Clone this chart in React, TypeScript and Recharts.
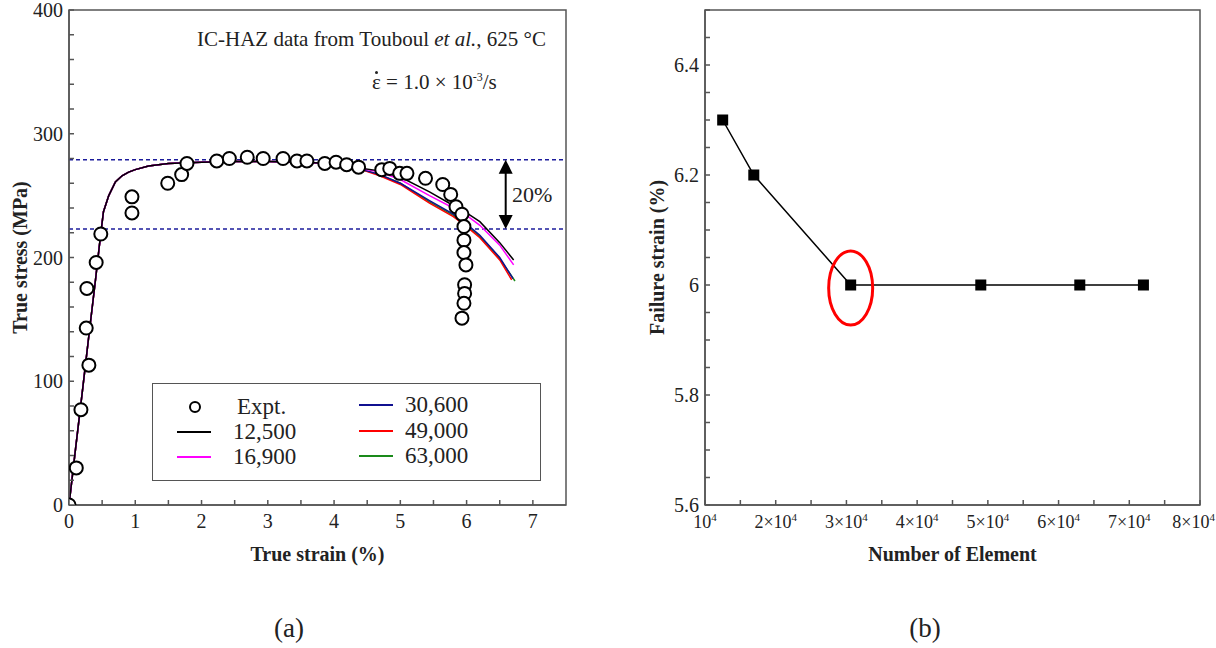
import React from 'react';
import {
  ComposedChart,
  LineChart,
  Line,
  Scatter,
  XAxis,
  YAxis,
  ReferenceLine,
  ReferenceArea,
  ReferenceDot,
} from 'recharts';

const SERIF = '"Liberation Serif", "Times New Roman", serif';
const AXIS = '#555';
const TEXT = '#222';

// (a) experimental points, true strain (%) vs true stress (MPa)
const exptStrain = [
  0, 0.11, 0.18, 0.26, 0.3, 0.27, 0.41, 0.48, 0.95, 0.95, 1.49, 1.7, 1.78, 2.23, 2.42, 2.69,
  2.93, 3.23, 3.44, 3.59, 3.86, 4.03, 4.19, 4.37, 4.72, 4.84, 4.99, 5.1, 5.38, 5.64, 5.76,
  5.84, 5.93, 5.96, 5.96, 5.96, 5.99, 5.97, 5.97, 5.96, 5.93,
];
const exptStress = [
  0, 30, 77, 143, 113, 175, 196, 219, 236, 249, 260, 267, 276, 278, 280, 281,
  280, 280, 278, 278, 276, 277, 275, 273, 271, 272, 268, 268, 264, 259, 251,
  241, 235, 225, 214, 204, 194, 178, 171, 163, 151,
];

// FE curves share the same path up to ~4.3 % strain
const commonStrain = [0, 0.1, 0.2, 0.3, 0.4, 0.47, 0.52, 0.6, 0.7, 0.8, 0.9, 1.0, 1.2, 1.5, 2.0, 2.5, 3.0, 3.5, 4.0, 4.3];
const commonStress = [0, 46, 91, 137, 182, 215, 237, 250, 261, 266, 269, 271, 274, 276, 277, 277.5, 277.5, 277, 276, 273];

// softening part after 4.3 %
const tailStrain = [4.69, 5.0, 5.44, 5.8, 6.0, 6.2, 6.5];
const stress12500 = [270, 265, 253, 242, 236, 229, 212];
const stress16900 = [269, 263, 250, 240, 234, 226, 210];
const stress30600 = [267, 260, 246, 235, 227, 218, 200];
const stress49000 = [266, 259, 244, 233, 225, 216, 198];
const stress63000 = [267, 260, 245, 234, 226, 217, 199];
const endStrain = [6.71, 6.71, 6.7, 6.68, 6.73];
const endStress = [198, 194, 183, 182, 181];

const meshNames = ['12,500', '16,900', '30,600', '49,000', '63,000'];
const meshColors = ['#000000', '#ff00ff', '#101090', '#ff0000', '#1a8a1a'];
const meshTails = [stress12500, stress16900, stress30600, stress49000, stress63000];

// (b) mesh convergence
const elementCount = [12500, 16900, 30600, 49000, 63000, 72000];
const failureStrain = [6.3, 6.2, 6.0, 6.0, 6.0, 6.0];

const yieldLevel = 279;
const dropLevel = 223;

const steps = (from: number, to: number, step: number) => {
  const out: number[] = [];
  for (let v = from; v <= to + step / 1000; v += step) out.push(Math.round(v * 1000) / 1000);
  return out;
};

const xTicksA = steps(0, 7, 0.5);
const xLabelsA = steps(0, 7, 1);
const yTicksA = steps(0, 400, 20);
const yLabelsA = [0, 100, 200, 300, 400];
const xTicksB = steps(10000, 80000, 5000);
const xLabelsB = [10000, 20000, 30000, 40000, 50000, 60000, 70000, 80000];
const yTicksB = steps(5.6, 6.5, 0.05);
const yLabelsB = [5.6, 5.8, 6, 6.2, 6.4];

const exptData = exptStrain.map((x, i) => ({ x, y: exptStress[i] }));
const meshData = meshTails.map((tail, k) => [
  ...commonStrain.map((x, i) => ({ x, y: commonStress[i] })),
  ...tailStrain.map((x, i) => ({ x, y: tail[i] })),
  { x: endStrain[k], y: endStress[k] },
]);
const convData = elementCount.map((n, i) => ({ n, v: failureStrain[i] }));

const has = (list: number[], v: number) => list.some((l) => Math.abs(l - v) < 1e-6);

const tickText = { fontFamily: SERIF, fill: TEXT };

const BottomTick = (props: any) => {
  const { x, y, payload, labels, format } = props;
  const v = payload.value;
  return (
    <g>
      <line x1={x} y1={y} x2={x} y2={y - 5} stroke={AXIS} strokeWidth={1.5} />
      {has(labels, v) && format(x, y + 23, v)}
    </g>
  );
};

const LeftTick = (props: any) => {
  const { x, y, payload, labels } = props;
  const v = payload.value;
  return (
    <g>
      <line x1={x} y1={y} x2={x + 5} y2={y} stroke={AXIS} strokeWidth={1.5} />
      {has(labels, v) && (
        <text x={x - 6} y={y + 7} textAnchor="end" fontSize={20} style={tickText}>
          {String(v)}
        </text>
      )}
    </g>
  );
};

const plainLabel = (x: number, y: number, v: number) => (
  <text x={x} y={y} textAnchor="middle" fontSize={20} style={tickText}>
    {String(v)}
  </text>
);

const powerLabel = (x: number, y: number, v: number) => {
  const m = Math.round(v / 10000);
  // the last label sits on the frame edge, keep it inside the picture
  const last = m === 8;
  return (
    <text x={last ? x + 15 : x} y={y} textAnchor={last ? 'end' : 'middle'} fontSize={18} style={tickText}>
      <tspan>{m === 1 ? '10' : `${m}×10`}</tspan>
      <tspan dy={-7} fontSize={11}>4</tspan>
    </text>
  );
};

const Arrow = (props: any) => {
  const { x1, y1, x2, y2 } = props;
  const top = Math.min(y1, y2);
  const bottom = Math.max(y1, y2);
  const h = 14;
  const w = 7;
  return (
    <g>
      <line x1={x1} y1={top + h - 2} x2={x2} y2={bottom - h + 2} stroke="#000" strokeWidth={2} />
      <polygon points={`${x1},${top} ${x1 - w},${top + h} ${x1 + w},${top + h}`} fill="#000" />
      <polygon points={`${x2},${bottom} ${x2 - w},${bottom - h} ${x2 + w},${bottom - h}`} fill="#000" />
    </g>
  );
};

const axisTitle = { fontFamily: SERIF, fontSize: 20, fontWeight: 700, fill: TEXT };

const LegendRow = ({ left, top, gap, label, color }: { left: number; top: number; gap: number; label: string; color?: string }) => (
  <div style={{ position: 'absolute', left, top, height: 24, display: 'flex', alignItems: 'center', whiteSpace: 'nowrap' }}>
    <svg width={36} height={24} style={{ marginRight: gap, flex: 'none' }}>
      {color ? (
        <line x1={2} y1={12} x2={36} y2={12} stroke={color} strokeWidth={2} />
      ) : (
        <circle cx={20} cy={12} r={5} fill="#fff" stroke="#000" strokeWidth={2} />
      )}
    </svg>
    <span>{label}</span>
  </div>
);

export default function App() {
  // draw green first so the 12,500 curve ends up on top
  const order = [4, 3, 2, 1, 0];
  return (
    <div style={{ position: 'absolute', left: 0, top: 0, width: 1216, height: 648, background: '#fff', fontFamily: SERIF, color: TEXT }}>
      {/* (a) */}
      <div style={{ position: 'absolute', left: 0, top: 0 }}>
        <ComposedChart width={600} height={580} margin={{ top: 10, right: 34, bottom: 17, left: 19 }}>
          <XAxis
            type="number"
            dataKey="x"
            domain={[0, 7.5]}
            ticks={xTicksA}
            interval={0}
            allowDataOverflow
            height={58}
            tickSize={0}
            tickMargin={0}
            tickLine={false}
            axisLine={{ stroke: AXIS, strokeWidth: 1.5 }}
            tick={<BottomTick labels={xLabelsA} format={plainLabel} />}
            label={{ value: 'True strain (%)', position: 'insideBottom', offset: 2, style: axisTitle }}
          />
          <YAxis
            type="number"
            dataKey="y"
            domain={[0, 400]}
            ticks={yTicksA}
            interval={0}
            allowDataOverflow
            width={50}
            tickSize={0}
            tickMargin={0}
            tickLine={false}
            axisLine={{ stroke: AXIS, strokeWidth: 1.5 }}
            tick={<LeftTick labels={yLabelsA} />}
            label={{ value: 'True stress (MPa)', angle: -90, position: 'insideLeft', offset: 1, style: { ...axisTitle, textAnchor: 'middle' } }}
          />
          <ReferenceArea x1={0} x2={7.5} y1={0} y2={400} fill="none" stroke={AXIS} strokeWidth={1.5} />
          <ReferenceLine y={yieldLevel} stroke="#1c1c9c" strokeWidth={1.5} strokeDasharray="4 3" />
          <ReferenceLine y={dropLevel} stroke="#1c1c9c" strokeWidth={1.5} strokeDasharray="4 3" />
          <ReferenceLine
            segment={[{ x: 6.59, y: yieldLevel }, { x: 6.59, y: dropLevel }]}
            shape={(p: any) => <Arrow {...p} />}
          />
          {order.map((k) => (
            <Line
              key={meshNames[k]}
              data={meshData[k]}
              dataKey="y"
              type="linear"
              stroke={meshColors[k]}
              strokeWidth={1.5}
              dot={false}
              activeDot={false}
              isAnimationActive={false}
            />
          ))}
          <Scatter
            data={exptData}
            isAnimationActive={false}
            shape={(p: any) => <circle cx={p.cx} cy={p.cy} r={6.5} fill="#fff" stroke="#000" strokeWidth={2} />}
          />
        </ComposedChart>

        <div style={{ position: 'absolute', left: 197, top: 27, fontSize: 21, whiteSpace: 'nowrap' }}>
          IC-HAZ data from Touboul <i>et al.</i>, 625 °C
        </div>
        <div style={{ position: 'absolute', left: 372, top: 70, fontSize: 21, whiteSpace: 'nowrap' }}>
          <span style={{ position: 'relative', display: 'inline-block' }}>
            ε
            <span
              style={{
                position: 'absolute',
                left: '50%',
                top: 1,
                width: 3,
                height: 3,
                marginLeft: -1.5,
                borderRadius: '50%',
                background: TEXT,
              }}
            />
          </span>{' '}
          = 1.0 × 10<sup style={{ fontSize: 12 }}>-3</sup>/s
        </div>
        <div style={{ position: 'absolute', left: 512, top: 182, fontSize: 22 }}>20%</div>

        <div
          style={{
            position: 'absolute',
            left: 152,
            top: 383,
            width: 389,
            height: 98,
            boxSizing: 'border-box',
            border: `1.5px solid ${AXIS}`,
            background: '#fff',
            fontSize: 23,
          }}
        >
          <LegendRow left={22} top={11} gap={26} label="Expt." />
          <LegendRow left={22} top={36} gap={22} label={meshNames[0]} color={meshColors[0]} />
          <LegendRow left={22} top={61} gap={22} label={meshNames[1]} color={meshColors[1]} />
          <LegendRow left={204} top={9} gap={12} label={meshNames[2]} color={meshColors[2]} />
          <LegendRow left={204} top={35} gap={12} label={meshNames[3]} color={meshColors[3]} />
          <LegendRow left={204} top={60} gap={12} label={meshNames[4]} color={meshColors[4]} />
        </div>
      </div>

      {/* (b) */}
      <div style={{ position: 'absolute', left: 600, top: 0 }}>
        <LineChart width={616} height={580} data={convData} margin={{ top: 10, right: 16, bottom: 17, left: 45 }}>
          <XAxis
            type="number"
            dataKey="n"
            domain={[10000, 80000]}
            ticks={xTicksB}
            interval={0}
            allowDataOverflow
            height={58}
            tickSize={0}
            tickMargin={0}
            tickLine={false}
            axisLine={{ stroke: AXIS, strokeWidth: 1.5 }}
            tick={<BottomTick labels={xLabelsB} format={powerLabel} />}
            label={{ value: 'Number of Element', position: 'insideBottom', offset: 2, style: axisTitle }}
          />
          <YAxis
            type="number"
            domain={[5.6, 6.5]}
            ticks={yTicksB}
            interval={0}
            allowDataOverflow
            width={60}
            tickSize={0}
            tickMargin={0}
            tickLine={false}
            axisLine={{ stroke: AXIS, strokeWidth: 1.5 }}
            tick={<LeftTick labels={yLabelsB} />}
            label={{ value: 'Failure strain (%)', angle: -90, position: 'insideLeft', offset: 12, style: { ...axisTitle, textAnchor: 'middle' } }}
          />
          <ReferenceArea x1={10000} x2={80000} y1={5.6} y2={6.5} fill="none" stroke={AXIS} strokeWidth={1.5} />
          <Line
            dataKey="v"
            type="linear"
            stroke="#000"
            strokeWidth={1.5}
            isAnimationActive={false}
            activeDot={false}
            dot={(p: any) => <rect key={p.index} x={p.cx - 5.5} y={p.cy - 5.5} width={11} height={11} fill="#000" />}
          />
          <ReferenceDot
            x={elementCount[2]}
            y={failureStrain[2]}
            shape={(p: any) => <ellipse cx={p.cx} cy={p.cy + 3} rx={22} ry={37} fill="none" stroke="#ff0000" strokeWidth={3} />}
          />
        </LineChart>
      </div>

      <div style={{ position: 'absolute', left: 289, top: 628, transform: 'translate(-50%, -50%)', fontSize: 27 }}>(a)</div>
      <div style={{ position: 'absolute', left: 925, top: 628, transform: 'translate(-50%, -50%)', fontSize: 27 }}>(b)</div>
    </div>
  );
}
